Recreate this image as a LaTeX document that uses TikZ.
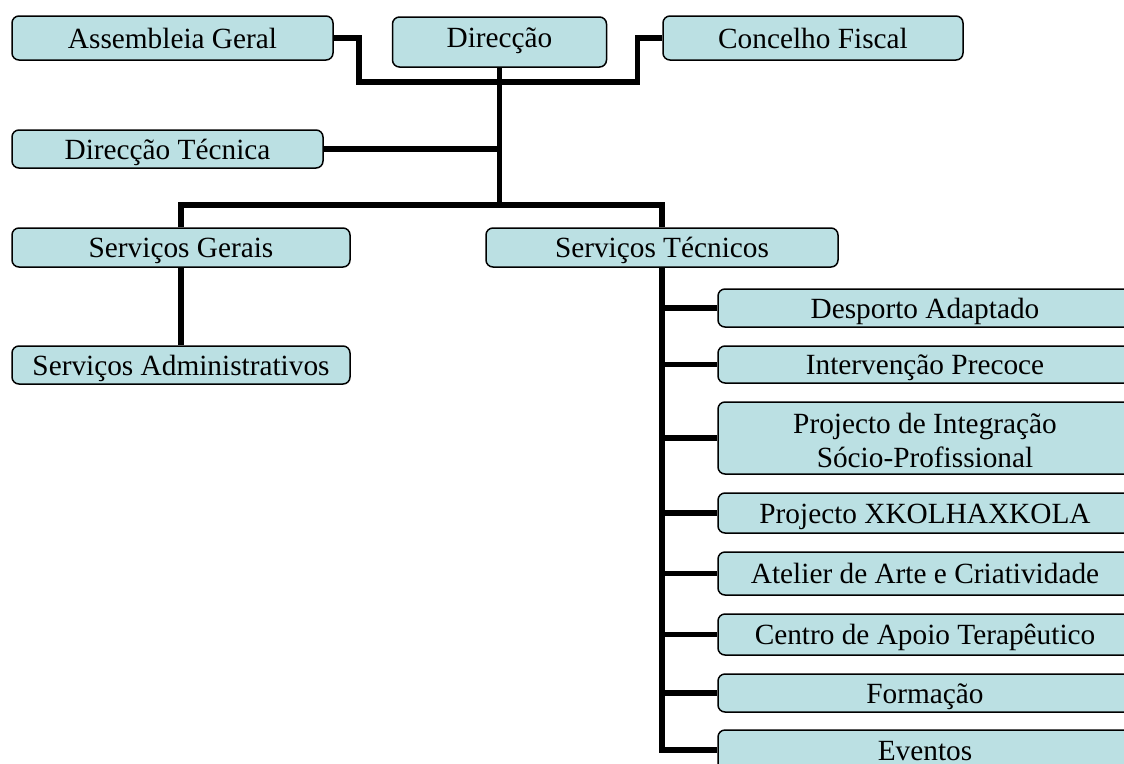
\documentclass[tikz,border=0pt]{standalone}
\usepackage{fontspec}
\setmainfont{Liberation Serif}
\usepackage{tikz}
\usetikzlibrary{calc}
\definecolor{Caixa}{RGB}{187,224,227}
\tikzset{caixa/.style={draw=black, line width=1.5pt, fill=Caixa, rounded corners=7pt, inner sep=0pt, align=center, text height=20pt, text depth=0pt, font=\fontsize{29.3}{34}\selectfont}}
\tikzset{ligacao/.style={line width=5.5pt, line join=miter}}

\begin{document}
\begin{tikzpicture}[x=1pt,y=-1pt]
        \useasboundingbox (0,0) rectangle (1124,763);
        \clip (0,0) rectangle (1124,763);
        \node[caixa, minimum width=321pt, minimum height=44pt] (ag) at (172.5,38) {Assembleia Geral};
        \node[caixa, minimum width=214pt, minimum height=50pt] (dir) at (499.5,42) {\raisebox{5pt}{Direcção}};
        \node[caixa, minimum width=300pt, minimum height=44pt] (cf) at (813,38) {Concelho Fiscal};
        \node[caixa, minimum width=311pt, minimum height=38pt] (dt) at (167.5,149) {Direcção Técnica};
        \node[caixa, minimum width=338pt, minimum height=39pt] (sg) at (181,247.5) {Serviços Gerais};
        \node[caixa, minimum width=352pt, minimum height=39pt] (st) at (662,247.5) {Serviços Técnicos};
        \node[caixa, minimum width=338pt, minimum height=38pt] (sa) at (181,365) {Serviços Administrativos};
        \node[caixa, minimum width=414pt, minimum height=38pt] (da) at (925,308) {Desporto Adaptado};
        \node[caixa, minimum width=414pt, minimum height=37pt] (ip) at (925,364.5) {Intervenção Precoce};
        \node[caixa, minimum width=414pt, minimum height=72pt, text height=58pt] (pi) at (925,438) {Projecto de Integração\\Sócio-Profissional};
        \node[caixa, minimum width=414pt, minimum height=40pt] (px) at (925,513) {Projecto XKOLHAXKOLA};
        \node[caixa, minimum width=414pt, minimum height=43pt] (aa) at (925,573.5) {Atelier de Arte e Criatividade};
        \node[caixa, minimum width=414pt, minimum height=41pt] (ca) at (925,634.5) {Centro de Apoio Terapêutico};
        \node[caixa, minimum width=414pt, minimum height=38pt] (fo) at (925,693) {Formação};
        \node[caixa, minimum width=414pt, minimum height=40pt] (ev) at (925,750) {Eventos};
        \coordinate (topo) at (499.5,82);
        \coordinate (centro) at (499.5,205);
        \draw[ligacao] (ag.east) -| ([xshift=25pt]ag.east |- topo) -- ([xshift=-25pt]cf.west |- topo) |- (cf.west);
        \draw[ligacao] (dir.south) -- (centro);
        \draw[ligacao] (dt.east) -- (dt.east -| centro);
        \draw[ligacao] (sg.north) |- (centro) -| (st.north);
        \draw[ligacao] (sg.south) -- (sa.north);
        \draw[ligacao] (st.south) |- (ev.west);
        \foreach \n in {da,ip,pi,px,aa,ca,fo}
                \draw[ligacao] (st.south |- \n.west) -- (\n.west);
        \end{tikzpicture}
\end{document}
